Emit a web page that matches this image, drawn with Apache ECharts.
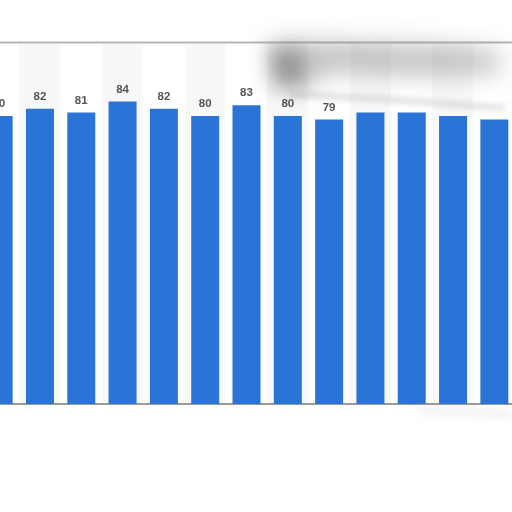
<!DOCTYPE html>
<html><head><meta charset="utf-8">
<script src="https://cdn.jsdelivr.net/npm/echarts@6/dist/echarts.min.js"></script>
<style>html,body{margin:0;padding:0;background:#fff;overflow:hidden;width:512px;height:512px;position:relative}#c{position:absolute;left:-22px;top:0;width:540px;height:512px}</style>
</head><body><div id="c"></div>
<script>
var categories = ['1','2','3','4','5','6','7','8','9','10','11','12','13'];
var values = [80, 82, 81, 84, 82, 80, 83, 80, 79, 81, 81, 80, 79];
var labelShown = [true, true, true, true, true, true, true, true, true, false, false, false, false];
var yTicks = [0, 20, 40, 60, 80, 100];

var chart = echarts.init(document.getElementById('c'));
var data = values.map(function (v, i) {
  return { value: v, label: { show: labelShown[i] } };
});
var OFF = 1000;
var DX = 22; // container shift
function pts(arr) { return arr.map(function (p) { return [p[0] + DX, p[1] - OFF]; }); }
chart.setOption({
  animation: false,
  grid: { left: 0, top: 44, width: 537, height: 360, containLabel: false },
  xAxis: {
    type: 'category', data: categories,
    axisLine: { show: true, lineStyle: { color: '#9a9a9a', width: 2 } },
    axisTick: { show: false }, axisLabel: { show: false },
    splitArea: { show: true, areaStyle: { color: ['#ffffff', '#f8f8f8'] } }
  },
  yAxis: {
    type: 'value', min: yTicks[0], max: yTicks[yTicks.length - 1], interval: 20,
    axisLabel: { show: false }, axisLine: { show: false }, axisTick: { show: false },
    splitLine: { lineStyle: { color: '#c8c8c8', type: [2, 2], width: 1 } }
  },
  series: [{
    type: 'bar', data: data, barWidth: 28,
    itemStyle: { color: '#2a74d8' },
    label: { position: 'top', distance: 6, color: '#555', fontSize: 11.5, fontWeight: 'bold', fontFamily: 'Arial, Liberation Sans, sans-serif' }
  }],
  graphic: [
    { type: 'line', shape: { x1: 0, y1: 42.5, x2: 540, y2: 42.5 }, style: { stroke: '#b5b5b5', lineWidth: 2 }, z: 10 },
    { type: 'polygon', z: 20, silent: true,
      shape: { points: pts([[268, 42], [330, 42], [440, 46], [500, 52], [500, 72], [430, 76], [330, 72], [305, 88], [275, 88]]) },
      style: { fill: '#000', shadowColor: 'rgba(120,120,120,0.45)', shadowBlur: 24, shadowOffsetY: OFF } },
    { type: 'polygon', z: 21, silent: true,
      shape: { points: pts([[270, 50], [300, 48], [304, 84], [276, 86]]) },
      style: { fill: '#000', shadowColor: 'rgba(100,100,100,0.45)', shadowBlur: 18, shadowOffsetY: OFF } },
    { type: 'polyline', z: 21, silent: true,
      shape: { points: pts([[290, 94], [380, 99], [450, 104], [505, 108]]) },
      style: { stroke: '#000', lineWidth: 2.5, fill: null, shadowColor: 'rgba(120,120,120,0.5)', shadowBlur: 6, shadowOffsetY: OFF } },
    { type: 'polyline', z: 21, silent: true,
      shape: { points: pts([[420, 410], [470, 412], [512, 414]]) },
      style: { stroke: '#000', lineWidth: 3, fill: null, shadowColor: 'rgba(150,150,150,0.35)', shadowBlur: 8, shadowOffsetY: OFF } }
  ]
});
</script></body></html>
